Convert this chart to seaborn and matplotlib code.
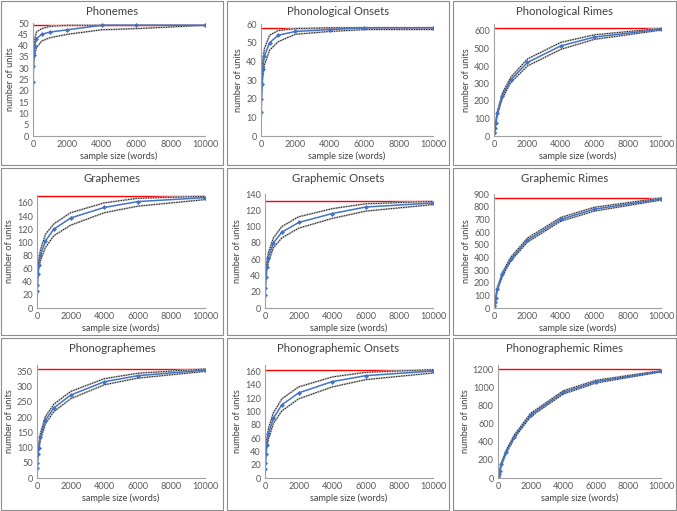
import matplotlib
matplotlib.use("Agg")
import matplotlib.pyplot as plt
import matplotlib.patches as mpatches
import pandas as pd
import seaborn as sns

# sample sizes (words)
sample_sizes = [10, 20, 50, 100, 200, 500, 1000, 2000, 4000, 6000, 10000]

titles = ["Phonemes", "Phonological Onsets", "Phonological Rimes",
          "Graphemes", "Graphemic Onsets", "Graphemic Rimes",
          "Phonographemes", "Phonographemic Onsets", "Phonographemic Rimes"]

totals = [49, 58, 615, 170, 131, 870, 358, 163, 1210]

phonemes_mean = [24, 31, 36, 40, 43, 45, 46, 47, 49, 49, 49]
phonemes_hi = [27, 34, 40, 43, 46, 47.5, 48.5, 49, 49, 49, 49]
phonemes_lo = [21, 28, 33, 36, 39, 42, 43.5, 45, 47, 47.5, 49]

ph_onsets_mean = [13, 20, 28, 36, 43, 50, 54, 56, 57, 58, 58]
ph_onsets_hi = [16, 24, 33, 40, 47, 54, 56.5, 57.5, 58, 58, 58]
ph_onsets_lo = [10, 16, 23, 31, 38, 46, 50.5, 54.5, 56, 57, 57]

ph_rimes_mean = [15, 25, 45, 75, 130, 230, 320, 420, 515, 565, 610]
ph_rimes_hi = [18, 29, 50, 82, 140, 245, 335, 440, 535, 578, 615]
ph_rimes_lo = [12, 21, 40, 68, 120, 215, 305, 400, 495, 552, 605]

graphemes_mean = [26, 35, 52, 65, 80, 102, 120, 137, 153, 162, 168]
graphemes_hi = [30, 40, 58, 72, 88, 112, 128, 145, 160, 167, 170]
graphemes_lo = [22, 30, 46, 58, 72, 92, 110, 126, 145, 155, 165]

gr_onsets_mean = [16, 25, 38, 50, 62, 80, 93, 105, 116, 124, 129]
gr_onsets_hi = [19, 29, 43, 55, 68, 86, 100, 112, 122, 128, 131]
gr_onsets_lo = [13, 21, 33, 45, 56, 74, 86, 98, 110, 119, 127]

gr_rimes_mean = [15, 25, 45, 80, 150, 265, 385, 535, 700, 780, 860]
gr_rimes_hi = [18, 30, 52, 90, 162, 280, 400, 552, 715, 795, 868]
gr_rimes_lo = [12, 21, 38, 70, 138, 250, 370, 520, 685, 765, 852]

phgr_mean = [32, 48, 78, 100, 135, 190, 230, 272, 316, 336, 354]
phgr_hi = [37, 55, 87, 110, 146, 202, 242, 284, 326, 344, 358]
phgr_lo = [27, 42, 70, 90, 124, 178, 218, 260, 306, 328, 350]

phgr_onsets_mean = [13, 22, 36, 50, 66, 90, 110, 128, 145, 154, 161]
phgr_onsets_hi = [16, 26, 42, 57, 74, 98, 119, 137, 152, 159, 163]
phgr_onsets_lo = [10, 18, 30, 44, 58, 82, 101, 119, 137, 148, 158]

phgr_rimes_mean = [12, 22, 42, 75, 150, 290, 460, 700, 950, 1070, 1185]
phgr_rimes_hi = [15, 27, 50, 87, 165, 308, 478, 718, 968, 1085, 1192]
phgr_rimes_lo = [9, 18, 35, 64, 135, 272, 442, 682, 932, 1055, 1178]

series = [
    (phonemes_mean, phonemes_hi, phonemes_lo),
    (ph_onsets_mean, ph_onsets_hi, ph_onsets_lo),
    (ph_rimes_mean, ph_rimes_hi, ph_rimes_lo),
    (graphemes_mean, graphemes_hi, graphemes_lo),
    (gr_onsets_mean, gr_onsets_hi, gr_onsets_lo),
    (gr_rimes_mean, gr_rimes_hi, gr_rimes_lo),
    (phgr_mean, phgr_hi, phgr_lo),
    (phgr_onsets_mean, phgr_onsets_hi, phgr_onsets_lo),
    (phgr_rimes_mean, phgr_rimes_hi, phgr_rimes_lo),
]

y_tops = [50, 60, 640, 172, 140, 900, 371, 170, 1255]
y_steps = [5, 10, 100, 20, 20, 100, 50, 20, 200]

sns.set_theme(style="white")
plt.rcParams["font.family"] = ["Lato", "DejaVu Sans"]

W, H = 677, 511
fig = plt.figure(figsize=(W / 100, H / 100), dpi=100)

# panel boxes in pixels: (x0, x1) per column, (y0, y1) per row
cols = [(1, 223), (227, 449), (453, 676)]
rows = [(1, 165), (168, 335), (338, 510)]
# plot area in pixels: left, right, top, bottom
areas = [
    (33, 205, 23, 136), (261, 433, 24, 136), (494, 661, 24, 136),
    (37, 205, 195, 308), (265, 433, 194, 308), (494, 661, 194, 308),
    (37, 205, 365, 478), (265, 433, 365, 478), (498, 661, 365, 478),
]

text_col = "#404040"

for i, title in enumerate(titles):
    r, c = divmod(i, 3)
    x0, x1 = cols[c]
    y0, y1 = rows[r]
    fig.patches.append(mpatches.Rectangle((x0 / W, 1 - y1 / H), (x1 - x0) / W, (y1 - y0) / H,
                                          transform=fig.transFigure, fill=False,
                                          edgecolor="#8c8c8c", linewidth=0.8))
    fig.text((x0 + x1) / 2 / W, 1 - (y0 + 10) / H, title, ha="center", va="center",
             fontsize=8.2, color=text_col)

    left, right, top, bottom = areas[i]
    ax = fig.add_axes([left / W, 1 - bottom / H, (right - left) / W, (bottom - top) / H])
    mean, hi, lo = series[i]
    df = pd.DataFrame({"x": sample_sizes, "mean": mean, "hi": hi, "lo": lo})

    for col in ["hi", "lo"]:
        sns.lineplot(data=df, x="x", y=col, ax=ax, color="#c4c4c4", linewidth=1.4)
        sns.lineplot(data=df, x="x", y=col, ax=ax, color="black", linewidth=0.6,
                     linestyle=(0, (1.6, 1.4)))
    sns.lineplot(data=df, x="x", y="mean", ax=ax, color="#4472C4", linewidth=1.1,
                 marker="D", markersize=2.5, markeredgewidth=0)
    ax.axhline(totals[i], color="#FF0000", linewidth=1.0, zorder=1)

    ax.set_xlim(0, 10000)
    ax.set_ylim(0, y_tops[i])
    ax.set_xticks(range(0, 10001, 2000))
    ax.set_yticks(range(0, y_tops[i] + 1, y_steps[i]))
    ax.tick_params(length=0, labelsize=6.6, pad=3, colors="#595959")
    ax.set_xlabel("sample size (words)", fontsize=6.6, color=text_col, labelpad=2)
    ax.set_ylabel("number of units", fontsize=6.6, color=text_col, labelpad=2)
    for s in ["top", "right"]:
        ax.spines[s].set_visible(False)
    for s in ["left", "bottom"]:
        ax.spines[s].set_color("#a0a0a0")
        ax.spines[s].set_linewidth(0.8)

fig.savefig("out.png", dpi=100)
